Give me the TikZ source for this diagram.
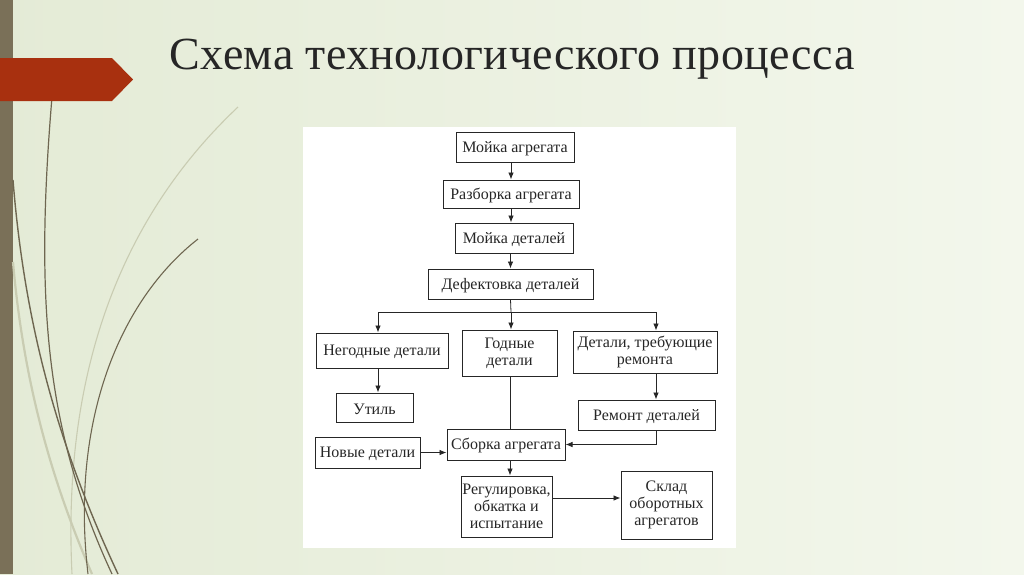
\documentclass[tikz,border=0pt]{standalone}
\usepackage{fontspec}
\setmainfont{Liberation Serif}
\usetikzlibrary{arrows.meta}

\definecolor{fondoA}{HTML}{E4EBD6}
\definecolor{fondoB}{HTML}{F3F7EC}
\definecolor{barra}{HTML}{7A7058}
\definecolor{rojo}{HTML}{A8300F}
\definecolor{tallo}{HTML}{6E6650}
\definecolor{tallob}{HTML}{C9CCB2}
\definecolor{linea}{HTML}{262626}

\tikzset{
  caja/.style={draw=linea, line width=1pt, inner sep=0pt, align=center,
    text=linea, font=\fontsize{16}{17}\selectfont,
    execute at begin node={\rule{0pt}{14pt}}},
  flecha/.style={draw=linea, line width=0.8pt, -{Latex[length=7pt,width=5.5pt]}},
  enlace/.style={draw=linea, line width=0.8pt}
}

\begin{document}
\begin{tikzpicture}[x=1pt,y=-1pt]
  % Fondo
  \useasboundingbox (0,0) rectangle (1024,574);
  \shade[left color=fondoA, right color=fondoB] (0,0) rectangle (1024,574);
  \fill[barra] (0,0) rectangle (13,574);

  % Tallos
  \draw[tallob, line width=2.2pt] (13,262) .. controls (25,400) and (60,500) .. (92,574);
  \draw[tallob, line width=1.1pt] (238,107) .. controls (150,190) and (60,330) .. (72,574);
  \draw[tallo, line width=1.2pt] (52,97) .. controls (35,300) and (45,430) .. (112,574);
  \draw[tallo, line width=1.4pt] (13,180) .. controls (25,330) and (60,450) .. (118,574);
  \draw[tallo, line width=1.1pt] (198,239) .. controls (120,300) and (70,420) .. (88,574);

  % Flecha roja
  \fill[rojo] (0,58) -- (112,58) -- (133,79.5) -- (112,101) -- (0,101) -- cycle;

  % Titulo
  \node[font=\fontsize{46}{54}\selectfont\addfontfeature{LetterSpace=1}, text=black!85, anchor=base]
    (titulo) at (512,69) {Схема технологического процесса};

  % Hoja blanca
  \fill[white] (303,127) rectangle (736,548);

  % Bloques
  \node[caja, minimum width=118, minimum height=30] (mag) at (515,147) {Мойка агрегата};
  \node[caja, minimum width=136, minimum height=28] (rag) at (511,194) {Разборка агрегата};
  \node[caja, minimum width=118, minimum height=30] (mdet) at (514,238) {Мойка деталей};
  \node[caja, minimum width=165, minimum height=30] (def) at (510.5,284) {Дефектовка деталей};
  \node[caja, minimum width=132, minimum height=35] (neg) at (382,350.5) {Негодные детали};
  \node[caja, minimum width=95, minimum height=46] (god) at (509.5,353) {Годные\\детали};
  \node[caja, minimum width=144, minimum height=42] (rdet) at (645,352) {Детали, требующие\\ремонта};
  \node[caja, minimum width=77, minimum height=29] (util) at (374.5,407.5) {Утиль};
  \node[caja, minimum width=137, minimum height=30] (rem) at (646.5,415) {Ремонт деталей};
  \node[caja, minimum width=105, minimum height=31] (nue) at (367.5,452.5) {Новые детали};
  \node[caja, minimum width=118, minimum height=31] (sbor) at (506,444.5) {Сборка агрегата};
  \node[caja, minimum width=91, minimum height=61] (reg) at (506.5,506.5) {Регулировка,\\обкатка и\\испытание};
  \node[caja, minimum width=91, minimum height=68] (sklad) at (666.5,505) {Склад\\оборотных\\агрегатов};

  % Columnas de las lineas
  \coordinate (cizq) at (378,0);
  \coordinate (ccen) at (510,0);
  \coordinate (cder) at (656,0);
  \coordinate (rama) at (511,312);
  \coordinate (fsk) at (0,498);

  % Conexiones
  \draw[flecha] (mag.south -| rag.north) -- (rag.north);
  \draw[flecha] (rag.south) -- (rag.south |- mdet.north);
  \draw[flecha] (mdet.south -| def.north) -- (def.north);
  \draw[enlace] (def.south) -- (rama);
  \draw[enlace] (rama -| cizq) -- (rama -| cder);
  \draw[flecha] (rama -| cizq) -- (neg.north -| cizq);
  \draw[flecha] (rama) -- (rama |- god.north);
  \draw[flecha] (rama -| cder) -- (rdet.north -| cder);
  \draw[flecha] (neg.south -| cizq) -- (util.north -| cizq);
  \draw[flecha] (rdet.south -| cder) -- (rem.north -| cder);
  \draw[enlace] (god.south -| ccen) -- (sbor.north -| ccen);
  \draw[flecha] (rem.south -| cder) |- (sbor.east);
  \draw[flecha] (nue.east) -- (nue.east -| sbor.west);
  \draw[flecha] (sbor.south -| ccen) -- (reg.north -| ccen);
  \draw[flecha] (reg.east |- fsk) -- (sklad.west |- fsk);
\end{tikzpicture}
\end{document}
